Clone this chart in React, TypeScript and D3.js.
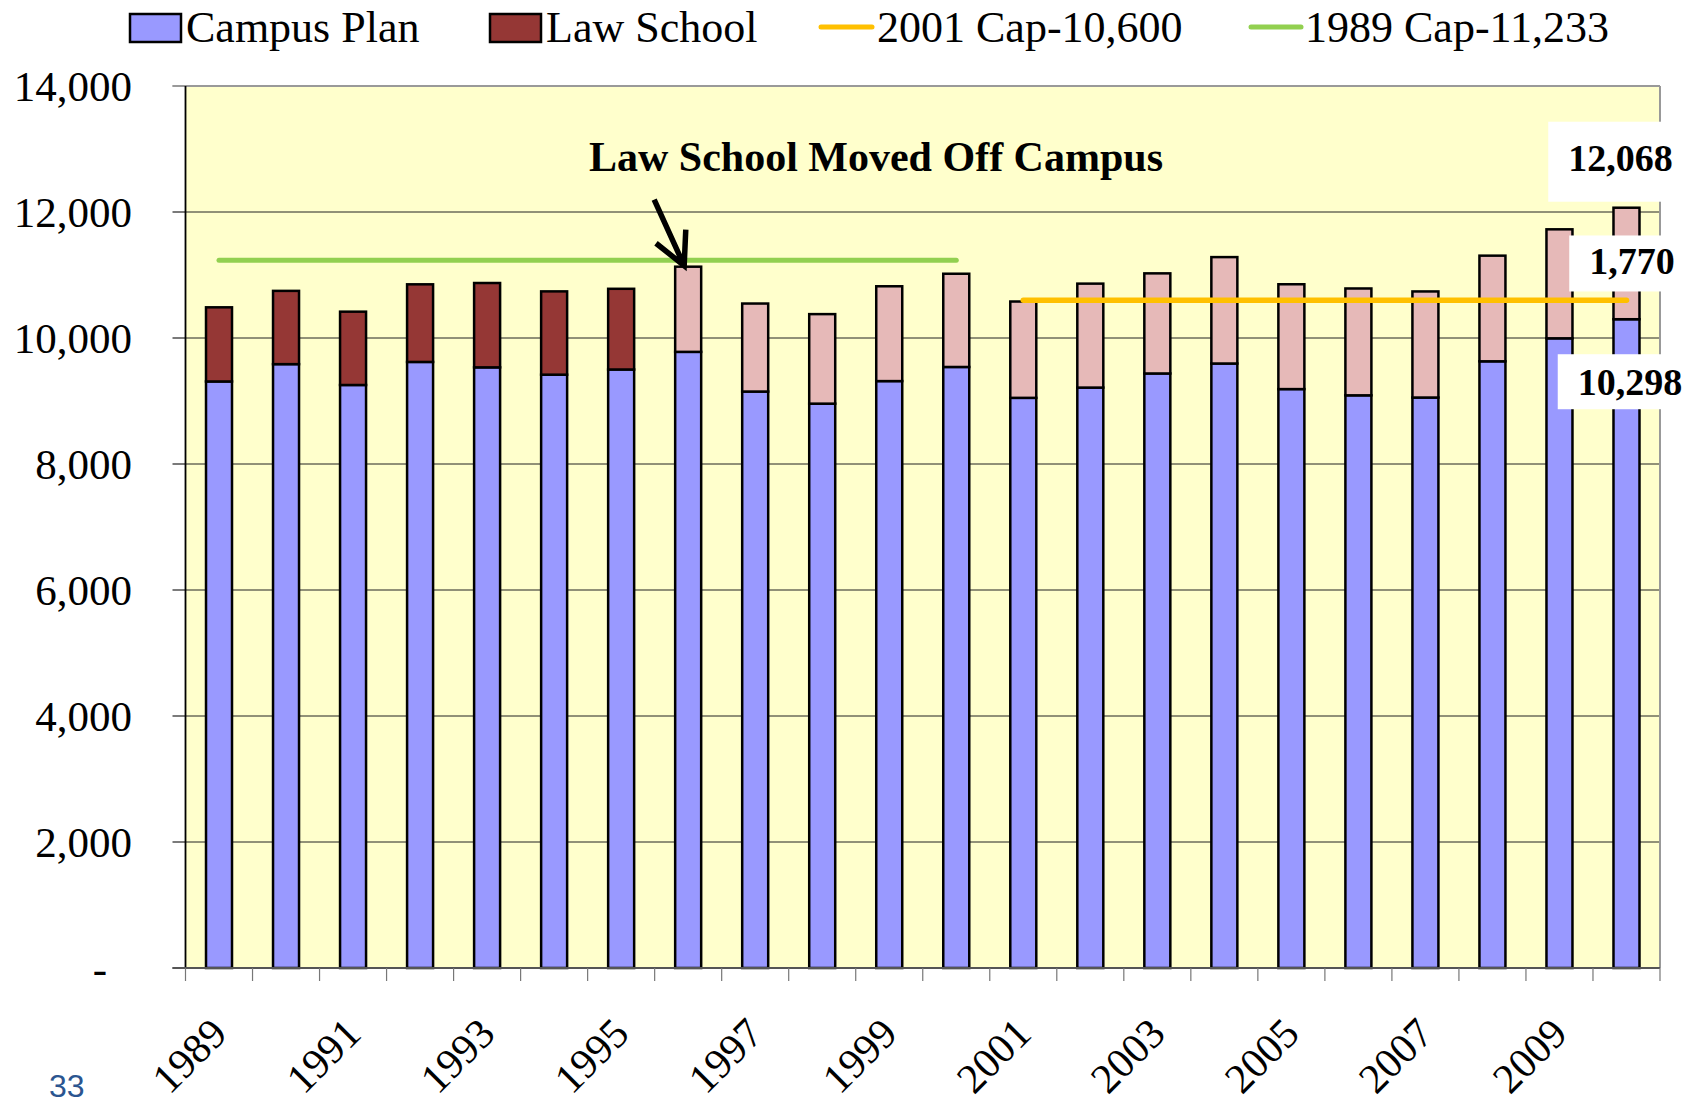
import React from 'react';
import * as d3 from 'd3';

// ---------- data ----------
const years = [1989, 1990, 1991, 1992, 1993, 1994, 1995, 1996, 1997, 1998, 1999, 2000, 2001, 2002, 2003, 2004, 2005, 2006, 2007, 2008, 2009, 2010];
const campusPlan = [9310, 9585, 9254, 9620, 9534, 9418, 9500, 9780, 9150, 8958, 9316, 9540, 9050, 9213, 9437, 9595, 9189, 9090, 9055, 9630, 9995, 10298];
const lawSchool = [1177, 1163, 1164, 1232, 1339, 1322, 1281, 1352, 1397, 1421, 1505, 1480, 1529, 1650, 1589, 1689, 1664, 1696, 1684, 1677, 1730, 1770];
const lawMovedYear = 1996;
const cap1989 = 11233;
const cap1989Years = [1989, 2000];
const cap2001 = 10600;
const cap2001Years = [2001, 2010];
const yTicks = [0, 2000, 4000, 6000, 8000, 10000, 12000, 14000];
const xLabelYears = [1989, 1991, 1993, 1995, 1997, 1999, 2001, 2003, 2005, 2007, 2009];
const legendLabels = ['Campus Plan', 'Law School', '2001 Cap-10,600', '1989 Cap-11,233'];
const annotationText = 'Law School Moved Off Campus';
const pageNumber = '33';

// ---------- styles ----------
const W = 1696, H = 1106;
const plot = { left: 185.5, right: 1660, top: 86, bottom: 968 };
const C = {
  campus: '#9999FF',
  lawOld: '#953735',
  lawNew: '#E6B9B8',
  bg: '#FFFFCC',
  orange: '#FFC000',
  green: '#92D050',
};
const serif = '"Liberation Serif", "Times New Roman", serif';

export default function App() {
  const x = d3.scaleBand<string>().domain(years.map(String)).range([plot.left, plot.right]).paddingInner(0).paddingOuter(0);
  const y = d3.scaleLinear().domain([0, 14000]).range([plot.bottom, plot.top]);
  const cx = (yr: number) => (x(String(yr)) as number) + x.bandwidth() / 2;
  const barW = 26;
  const fmt = d3.format(',');

  const last = years.length - 1;
  const lastYear = years[last];
  const lastTotal = campusPlan[last] + lawSchool[last];
  const labelFont = 38;
  const textW = (s: string) => s.split('').reduce((a, ch) => a + (ch === ',' ? 0.25 : 0.5), 0) * labelFont;

  const labels = [
    { text: fmt(lastTotal), cx: cx(lastYear) - 6, base: y(lastTotal) - 37, top: 49, bottom: 31 },
    { text: fmt(lawSchool[last]), cx: cx(lastYear) + 5.5, base: y(campusPlan[last] + lawSchool[last] / 2) + 11, top: 39, bottom: 17 },
    { text: fmt(campusPlan[last]), cx: cx(lastYear) + 3.5, base: y(campusPlan[last]) + 76, top: 41, bottom: 14 },
  ];

  // arrow
  const i96 = years.indexOf(lawMovedYear);
  const tipX = cx(lawMovedYear) - 4;
  const tipY = y(campusPlan[i96] + lawSchool[i96]) - 1;
  const sx = tipX - 30, sy = tipY - 66;
  const back = Math.atan2(sy - tipY, sx - tipX);
  const armL = 36, armA = (27 * Math.PI) / 180;
  const a1 = [tipX + armL * Math.cos(back + armA), tipY + armL * Math.sin(back + armA)];
  const a2 = [tipX + armL * Math.cos(back - armA), tipY + armL * Math.sin(back - armA)];

  const boundaries = years.map((yr) => x(String(yr)) as number).concat([plot.right]);

  return (
    <div style={{ position: 'absolute', left: 0, top: 0 }}>
      <svg width={W} height={H} style={{ display: 'block', background: '#fff' }} fontFamily={serif}>
        {/* legend */}
        <g fontSize={44} fill="#000">
          <rect x={130} y={14} width={51} height={28} fill={C.campus} stroke="#000" strokeWidth={2.5} />
          <text x={186} y={42}>{legendLabels[0]}</text>
          <rect x={490} y={14} width={51} height={28} fill={C.lawOld} stroke="#000" strokeWidth={2.5} />
          <text x={546} y={42}>{legendLabels[1]}</text>
          <line x1={821} x2={872} y1={27} y2={27} stroke={C.orange} strokeWidth={5} strokeLinecap="round" />
          <text x={877} y={42}>{legendLabels[2]}</text>
          <line x1={1251} x2={1301} y1={27} y2={27} stroke={C.green} strokeWidth={5} strokeLinecap="round" />
          <text x={1305} y={42}>{legendLabels[3]}</text>
        </g>

        {/* plot background */}
        <rect x={plot.left} y={plot.top} width={plot.right - plot.left} height={plot.bottom - plot.top} fill={C.bg} />

        {/* gridlines + y ticks */}
        {yTicks.map((t) => (
          <g key={t}>
            {t > 0 && t < 14000 && (
              <line x1={plot.left} x2={plot.right} y1={y(t)} y2={y(t)} stroke="#222" strokeWidth={1} />
            )}
            <line x1={plot.left - 13} x2={plot.left} y1={y(t)} y2={y(t)} stroke={t === 14000 ? '#999' : '#222'} strokeWidth={1.2} />
            <text
              x={t === 0 ? 107 : 132}
              y={y(t)}
              dy="0.35em"
              textAnchor="end"
              fontSize={43}
            >
              {t === 0 ? '-' : fmt(t)}
            </text>
          </g>
        ))}

        {/* plot borders */}
        <line x1={plot.left - 13} x2={plot.right} y1={plot.top} y2={plot.top} stroke="#999" strokeWidth={1.8} />
        <line x1={plot.right} x2={plot.right} y1={plot.top} y2={plot.bottom} stroke="#999" strokeWidth={2} />

        {/* bars */}
        {years.map((yr, i) => {
          const bx = cx(yr) - barW / 2;
          const c0 = y(campusPlan[i]);
          const t0 = y(campusPlan[i] + lawSchool[i]);
          return (
            <g key={yr} stroke="#000" strokeWidth={2.5}>
              <rect x={bx} y={c0} width={barW} height={plot.bottom - c0} fill={C.campus} />
              <rect x={bx} y={t0} width={barW} height={c0 - t0} fill={yr < lawMovedYear ? C.lawOld : C.lawNew} />
            </g>
          );
        })}

        {/* axes */}
        <line x1={plot.left} x2={plot.left} y1={plot.top} y2={plot.bottom} stroke="#000" strokeWidth={1.8} />
        <line x1={plot.left - 13} x2={plot.right} y1={plot.bottom} y2={plot.bottom} stroke="#555" strokeWidth={2} />
        {boundaries.map((bx, i) => (
          <line key={i} x1={bx} x2={bx} y1={plot.bottom} y2={plot.bottom + 13} stroke="#777" strokeWidth={1.2} />
        ))}
        {xLabelYears.map((yr) => (
          <text
            key={yr}
            transform={`translate(${cx(yr) + 10},${1036}) rotate(-45)`}
            textAnchor="end"
            fontSize={42}
          >
            {yr}
          </text>
        ))}

        {/* cap lines */}
        <line x1={cx(cap1989Years[0])} x2={cx(cap1989Years[1])} y1={y(cap1989)} y2={y(cap1989)} stroke={C.green} strokeWidth={5} strokeLinecap="round" />
        <line x1={cx(cap2001Years[0])} x2={cx(cap2001Years[1])} y1={y(cap2001)} y2={y(cap2001)} stroke={C.orange} strokeWidth={5.5} strokeLinecap="round" />

        {/* annotation */}
        <text x={876} y={171} textAnchor="middle" fontSize={42} fontWeight="bold">{annotationText}</text>
        <path
          d={`M${sx},${sy} L${tipX},${tipY} M${a1[0]},${a1[1]} L${tipX},${tipY} L${a2[0]},${a2[1]}`}
          fill="none"
          stroke="#000"
          strokeWidth={5.5}
          strokeLinejoin="miter"
          strokeMiterlimit={10}
        />

        {/* data labels */}
        {labels.map((l, i) => {
          const w = textW(l.text);
          return (
            <g key={i}>
              <rect x={l.cx - w / 2 - 20} y={l.base - l.top} width={W - 4 - (l.cx - w / 2 - 20)} height={l.top + l.bottom} fill="#fff" />
              <text x={l.cx} y={l.base} textAnchor="middle" fontSize={labelFont} fontWeight="bold">{l.text}</text>
            </g>
          );
        })}

        {/* page number */}
        <text x={49} y={1097} fontFamily='"Liberation Sans", Arial, sans-serif' fontSize={32} fill="#2B5590">{pageNumber}</text>
      </svg>
    </div>
  );
}
